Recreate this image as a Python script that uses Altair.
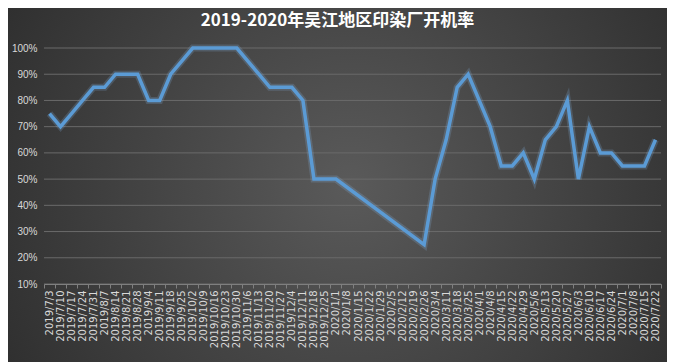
import altair as alt
import pandas as pd

dates = [
    "2019/7/3", "2019/7/10", "2019/7/17", "2019/7/24", "2019/7/31",
    "2019/8/7", "2019/8/14", "2019/8/21", "2019/8/28",
    "2019/9/4", "2019/9/11", "2019/9/18", "2019/9/25",
    "2019/10/2", "2019/10/9", "2019/10/16", "2019/10/23", "2019/10/30",
    "2019/11/6", "2019/11/13", "2019/11/20", "2019/11/27",
    "2019/12/4", "2019/12/11", "2019/12/18", "2019/12/25",
    "2020/1/1", "2020/1/8", "2020/1/15", "2020/1/22", "2020/1/29",
    "2020/2/5", "2020/2/12", "2020/2/19", "2020/2/26",
    "2020/3/4", "2020/3/11", "2020/3/18", "2020/3/25",
    "2020/4/1", "2020/4/8", "2020/4/15", "2020/4/22", "2020/4/29",
    "2020/5/6", "2020/5/13", "2020/5/20", "2020/5/27",
    "2020/6/3", "2020/6/10", "2020/6/17", "2020/6/24",
    "2020/7/1", "2020/7/8", "2020/7/15", "2020/7/22",
]

rate = [
    75, 70, 75, 80, 85,
    85, 90, 90, 90,
    80, 80, 90, 95,
    100, 100, 100, 100, 100,
    95, 90, 85, 85,
    85, 80, 50, 50,
    50, None, None, None, None,
    None, None, None, 25,
    50, 65, 85, 90,
    80, 70, 55, 55, 60,
    50, 65, 70, 80,
    50, 70, 60, 60,
    55, 55, 55, 65,
]

y_ticks = [10, 20, 30, 40, 50, 60, 70, 80, 90, 100]

title_text = "2019-2020年吴江地区印染厂开机率"

df = pd.DataFrame({"date": dates, "rate": rate, "order": list(range(len(dates)))})
grid_df = pd.DataFrame({"rate": y_ticks})

W, H = 617, 236

bg = alt.Chart(pd.DataFrame({"a": [0]})).mark_rect(
    color=alt.RadialGradient(
        gradient="radial",
        stops=[alt.GradientStop(offset=0, color="#5a5a5a"),
               alt.GradientStop(offset=1, color="#242424")],
        x1=0.52, y1=0.5, r1=0, x2=0.52, y2=0.5, r2=0.75,
    ),
    clip=False,
).encode(
    x=alt.value(-36), x2=alt.value(W + 6),
    y=alt.value(-40), y2=alt.value(H + 78),
)

y_scale = alt.Scale(domain=[10, 100], nice=False, zero=False)
y_axis = alt.Axis(
    title=None, values=y_ticks, labelExpr="datum.value + '%'",
    labelFont="Liberation Sans", labelFontSize=10, labelColor="#d9d9d9",
    labelOverlap=False, ticks=False, domain=False, grid=False,
    labelPadding=7, zindex=1,
)

x_enc = alt.X(
    "date:O",
    scale=alt.Scale(type="band", domain=dates, paddingInner=0, paddingOuter=0),
    bandPosition=0.5,
    axis=alt.Axis(
        title=None, labelAngle=270, labelFont="DejaVu Sans", labelFontSize=10,
        labelColor="#d9d9d9", labelOverlap=False, tickBand="extent",
        tickColor="#7f7f7f", tickSize=4, domainColor="#7f7f7f",
        labelPadding=2, grid=False, zindex=1,
    ),
)
y_enc = alt.Y("rate:Q", scale=y_scale, axis=y_axis)

grid = alt.Chart(grid_df).mark_rule(color="#6a6a6a", strokeWidth=1).encode(
    y=y_enc,
    x=alt.value(0), x2=alt.value(W),
)

base = alt.Chart(df).transform_filter("isValid(datum.rate)")

glow = base.mark_line(color="#8ec0ee", strokeWidth=7, opacity=0.2).encode(
    x=x_enc, y=y_enc, order=alt.Order("order:Q")
)
line = base.mark_line(color="#5b9bd5", strokeWidth=3.5).encode(
    x=x_enc, y=y_enc, order=alt.Order("order:Q")
)

title = alt.Chart(pd.DataFrame({"t": [title_text]})).mark_text(
    font="Noto Sans CJK SC", fontSize=17, fontWeight="bold", color="#ffffff",
    align="center", baseline="alphabetic",
).encode(text="t:N", x=alt.value(W / 2 - 15), y=alt.value(-22))

chart = alt.layer(bg, grid, glow, line, title).properties(
    width=W,
    height=H,
    padding={"left": 36, "top": 40, "right": 6, "bottom": 78},
    autosize=alt.AutoSizeParams(type="none"),
    background="#303030",
).configure_view(stroke=None)

chart.save("out.html", embed_options={"renderer": "svg", "actions": False})
